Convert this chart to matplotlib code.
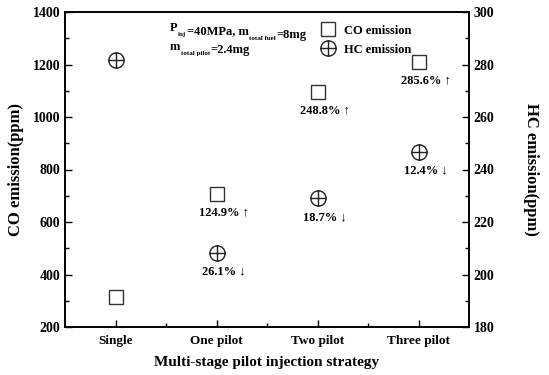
import matplotlib
matplotlib.use("Agg")
import matplotlib.pyplot as plt
from matplotlib.path import Path
import numpy as np

plt.rcParams["font.family"] = ["Liberation Serif", "DejaVu Serif"]
plt.rcParams["font.weight"] = "bold"

# data
strategies = ["Single", "One pilot", "Two pilot", "Three pilot"]
co_ppm = [314, 706, 1095, 1211]
hc_ppm = [281.7, 208.2, 229.0, 246.8]
co_labels = ["", "124.9% \u2191", "248.8% \u2191", "285.6% \u2191"]
hc_labels = ["", "26.1% \u2193", "18.7% \u2193", "12.4% \u2193"]

x = np.arange(len(strategies))


def chain_text(ax, x0, y0, pieces):
    # pieces: (text, size, is_subscript) drawn one after the other
    prev = None
    for s, size, sub in pieces:
        dy = -2.5 if sub else 0
        if prev is None:
            prev = ax.text(x0, y0, s, transform=ax.transAxes, fontsize=size,
                           fontweight="bold", va="baseline")
        else:
            prev = ax.annotate(s, xy=(1, 0), xycoords=prev,
                               xytext=(0.3, dy), textcoords="offset points",
                               fontsize=size, fontweight="bold",
                               va="bottom", ha="left")
    return prev


# circle with a cross inside
circ = Path.unit_circle()
cross = Path([[-1, 0], [1, 0], [0, -1], [0, 1]],
             [Path.MOVETO, Path.LINETO, Path.MOVETO, Path.LINETO])
oplus = Path.make_compound_path(circ, cross)

fig = plt.figure(figsize=(5.49, 3.75), dpi=100)
ax = fig.add_axes([0.1184, 0.128, 0.7359, 0.840])
ax2 = ax.twinx()

l1, = ax.plot(x, co_ppm, ls="none", marker="s", markersize=10,
              mfc="white", mec="#333333", mew=1.0, label="CO emission")
l2, = ax2.plot(x, hc_ppm, ls="none", marker=oplus, markersize=11,
               mfc="none", mec="#222222", mew=1.0, label="HC emission")

for i in range(len(x)):
    if co_labels[i]:
        ax.annotate(co_labels[i], (x[i], co_ppm[i]), xytext=(5, -9),
                    textcoords="offset points", ha="center", va="top",
                    fontsize=9, fontweight="bold")
    if hc_labels[i]:
        ax2.annotate(hc_labels[i], (x[i], hc_ppm[i]), xytext=(5, -9),
                     textcoords="offset points", ha="center", va="top",
                     fontsize=9, fontweight="bold")

ax.set_xlim(-0.5, 3.5)
ax.set_ylim(200, 1400)
ax2.set_ylim(180, 300)
ax.set_xticks(x)
ax.set_xticklabels(strategies)
ax.set_xticks([0.5, 1.5, 2.5], minor=True)
ax.set_yticks(np.arange(200, 1401, 200))
ax.set_yticks(np.arange(300, 1400, 200), minor=True)
ax2.set_yticks(np.arange(180, 301, 20))
ax2.set_yticks(np.arange(190, 300, 20), minor=True)

for a in (ax, ax2):
    a.tick_params(which="both", direction="in", labelsize=10, width=1.0)
    a.tick_params(which="major", length=5)
    a.tick_params(which="minor", length=3)
    for s in a.spines.values():
        s.set_linewidth(1.2)
ax.tick_params(axis="x", pad=6, labelsize=9.5)

ax.set_xlabel("Multi-stage pilot injection strategy", fontsize=11,
              fontweight="bold", labelpad=6)
ax.set_ylabel("CO emission(ppm)", fontsize=12, fontweight="bold", labelpad=6)
ax2.set_ylabel("HC emission(ppm)", fontsize=12, fontweight="bold",
               rotation=270, labelpad=32)

chain_text(ax, 0.26, 0.94, [("P", 9, False), ("inj", 5, True),
                            ("=40MPa, m", 9, False), ("total fuel", 5, True),
                            ("=8mg", 9, False)])
chain_text(ax, 0.26, 0.88, [("m", 9, False), ("total pilot", 5, True),
                            ("=2.4mg", 9, False)])

ax.legend(handles=[l1, l2], loc="upper left", bbox_to_anchor=(0.6, 0.995),
          frameon=False, fontsize=9, handletextpad=0.5, labelspacing=0.55,
          handlelength=1.5)

fig.savefig("out.png", dpi=100)
